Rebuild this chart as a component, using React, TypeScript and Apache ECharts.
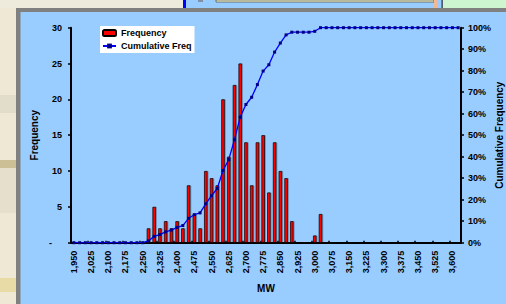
import React, { useEffect, useRef } from "react";
import * as echarts from "echarts";

const categories: string[] = [
  "1,950", "1,975", "2,000", "2,025", "2,050", "2,075", "2,100", "2,125", "2,150", "2,175",
  "2,200", "2,225", "2,250", "2,275", "2,300", "2,325", "2,350", "2,375", "2,400", "2,425",
  "2,450", "2,475", "2,500", "2,525", "2,550", "2,575", "2,600", "2,625", "2,650", "2,675",
  "2,700", "2,725", "2,750", "2,775", "2,800", "2,825", "2,850", "2,875", "2,900", "2,925",
  "2,950", "2,975", "3,000", "3,025", "3,050", "3,075", "3,100", "3,125", "3,150", "3,175",
  "3,200", "3,225", "3,250", "3,275", "3,300", "3,325", "3,350", "3,375", "3,400", "3,425",
  "3,450", "3,475", "3,500", "3,525", "3,550", "3,575", "3,600", "More",
];

const frequency: number[] = [
  0, 0, 0, 0, 0, 0, 0, 0, 0, 0,
  0, 0, 0, 2, 5, 2, 3, 2, 3, 2,
  8, 4, 2, 10, 9, 8, 20, 12, 22, 25,
  14, 8, 14, 15, 7, 14, 10, 9, 3, 0,
  0, 0, 1, 4, 0, 0, 0, 0, 0, 0,
  0, 0, 0, 0, 0, 0, 0, 0, 0, 0,
  0, 0, 0, 0, 0, 0, 0, 0,
];

const cumulativePct: number[] = [
  0, 0, 0, 0, 0, 0, 0, 0, 0, 0,
  0, 0, 0, 0.84, 2.94, 3.78, 5.04, 5.88, 7.14, 7.98,
  11.34, 13.03, 13.87, 18.07, 21.85, 25.21, 33.61, 38.66, 47.9, 58.4,
  64.29, 67.65, 73.53, 79.83, 82.77, 88.66, 92.86, 96.64, 97.9, 97.9,
  97.9, 97.9, 98.32, 100, 100, 100, 100, 100, 100, 100,
  100, 100, 100, 100, 100, 100, 100, 100, 100, 100,
  100, 100, 100, 100, 100, 100, 100, 100,
];

const leftTicks = { min: 0, max: 30, interval: 5 };
const rightTicks = { min: 0, max: 100, interval: 10 };

const FONT = '"Liberation Sans", Arial, sans-serif';

export default function App() {
  const ref = useRef<HTMLDivElement>(null);

  useEffect(() => {
    if (!ref.current) return;
    const chart = echarts.init(ref.current, undefined, { renderer: "svg" });

    const bold = { fontFamily: FONT, fontWeight: "bold" as const, color: "#000" };

    chart.setOption({
      animation: false,
      backgroundColor: "#99CCFF",
      textStyle: { fontFamily: FONT },
      graphic: [
        // left beige strip
        { type: "rect", z: -10, shape: { x: 0, y: 0, width: 16, height: 304 }, style: { fill: "#EEE8D5" } },
        { type: "rect", z: -9, shape: { x: 0, y: 95, width: 16, height: 18 }, style: { fill: "#E2DCCB" } },
        { type: "rect", z: -9, shape: { x: 0, y: 160, width: 16, height: 8 }, style: { fill: "#CDBF95" } },
        { type: "rect", z: -9, shape: { x: 0, y: 168, width: 16, height: 45 }, style: { fill: "#E6DFCC" } },
        { type: "rect", z: -9, shape: { x: 0, y: 278, width: 16, height: 14 }, style: { fill: "#E9DBA6" } },
        // top strip
        { type: "rect", z: -10, shape: { x: 0, y: 0, width: 183, height: 8 }, style: { fill: "#EFEBDC" } },
        { type: "rect", z: -9, shape: { x: 183, y: 0, width: 3, height: 8 }, style: { fill: "#0000FF" } },
        { type: "rect", z: -9, shape: { x: 198, y: 0, width: 5, height: 2 }, style: { fill: "#8090A8" } },
        { type: "rect", z: -9, shape: { x: 216, y: 0, width: 218, height: 2 }, style: { fill: "#FFFFD0", stroke: "#505050", lineWidth: 0.8 } },
        { type: "rect", z: -9, shape: { x: 434, y: 0, width: 3, height: 8 }, style: { fill: "#F2B896" } },
        { type: "rect", z: -9, shape: { x: 443, y: 0, width: 63, height: 8 }, style: { fill: "#CCF5D0" } },
        { type: "rect", z: -9, shape: { x: 441.5, y: 0, width: 1.2, height: 8 }, style: { fill: "#303030" } },
        // grey frame
        { type: "rect", z: -8, shape: { x: 16, y: 8, width: 490, height: 4 }, style: { fill: "#808080" } },
        { type: "rect", z: -8, shape: { x: 16, y: 8, width: 4.5, height: 296 }, style: { fill: "#808080" } },
      ],
      legend: {
        orient: "vertical",
        left: 100,
        top: 26,
        backgroundColor: "#FFFFFF",
        padding: [2, 3, 2, 2],
        itemGap: 3,
        itemWidth: 13,
        itemHeight: 6,
        textStyle: { ...bold, fontSize: 9, lineHeight: 10 },
        data: ["Frequency", "Cumulative Freq"],
      },
      grid: {
        left: 71,
        right: 45,
        top: 27.7,
        bottom: 61.3,
        containLabel: false,
        outerBoundsMode: "none",
      },
      xAxis: {
        type: "category",
        data: categories,
        boundaryGap: true,
        name: "MW",
        nameLocation: "middle",
        nameGap: 41,
        nameMoveOverlap: false,
        nameTextStyle: { ...bold, fontSize: 10 },
        axisLine: { lineStyle: { color: "#000", width: 2 } },
        axisTick: { show: true, inside: true, length: 2, interval: 2, lineStyle: { color: "#000", width: 1.5 } },
        axisLabel: { ...bold, fontSize: 9, rotate: 90, interval: 2, margin: 8 },
        splitLine: { show: false },
      },
      yAxis: [
        {
          type: "value",
          position: "left",
          min: leftTicks.min,
          max: leftTicks.max,
          interval: leftTicks.interval,
          name: "Frequency",
          nameLocation: "middle",
          nameRotate: 90,
          nameGap: 32,
          nameMoveOverlap: false,
          nameTextStyle: { ...bold, fontSize: 10 },
          axisLine: { show: true, lineStyle: { color: "#000", width: 2 } },
          axisTick: { show: true, length: 3, lineStyle: { color: "#000", width: 1.5 } },
          axisLabel: {
            ...bold,
            fontSize: 9,
            margin: 9,
            formatter: (v: number) => (v === 0 ? "{z|-}" : String(v)),
            rich: { z: { ...bold, fontSize: 9, padding: [0, 10, 0, 0] } },
          },
          splitLine: { show: false },
        },
        {
          type: "value",
          position: "right",
          min: rightTicks.min,
          max: rightTicks.max,
          interval: rightTicks.interval,
          name: "Cumulative Frequency",
          nameLocation: "middle",
          nameRotate: 90,
          nameGap: 33,
          nameMoveOverlap: false,
          nameTextStyle: { ...bold, fontSize: 10 },
          axisLine: { show: true, lineStyle: { color: "#000", width: 2 } },
          axisTick: { show: true, length: 3, lineStyle: { color: "#000", width: 1.5 } },
          axisLabel: { ...bold, fontSize: 9, margin: 7, formatter: "{value}%" },
          splitLine: { show: false },
        },
      ],
      series: [
        {
          name: "Frequency",
          type: "bar",
          yAxisIndex: 0,
          data: frequency,
          barWidth: 3.4,
          itemStyle: {
            color: "#FF0000",
            borderColor: "#000",
            borderWidth: 0.7,
            shadowColor: "rgba(0,0,0,0.3)",
            shadowOffsetX: 1,
            shadowOffsetY: 0,
            shadowBlur: 0,
          },
          z: 2,
        },
        {
          name: "Cumulative Freq",
          type: "line",
          yAxisIndex: 1,
          data: cumulativePct,
          symbol: "rect",
          symbolSize: 3,
          showAllSymbol: true,
          lineStyle: { color: "#0000FF", width: 1.3 },
          itemStyle: { color: "#000080", borderColor: "#000080", borderWidth: 0 },
          z: 3,
        },
      ],
    });

    return () => chart.dispose();
  }, []);

  return (
    <div
      ref={ref}
      style={{ position: "absolute", left: 0, top: 0, width: 506, height: 304 }}
    />
  );
}
